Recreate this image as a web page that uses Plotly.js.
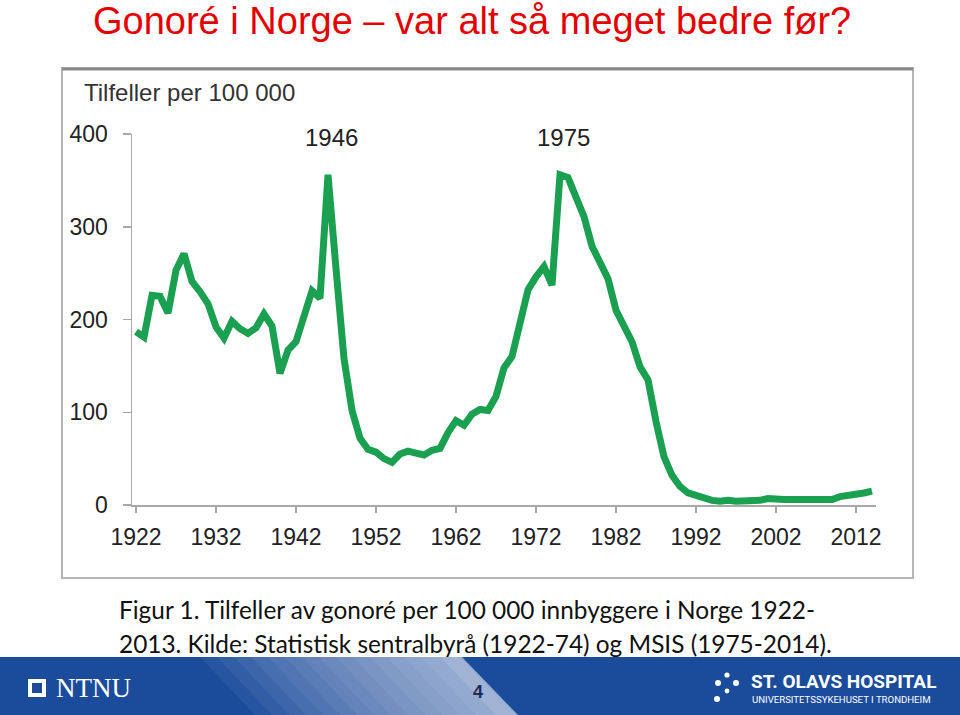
<!DOCTYPE html>
<html>
<head>
<meta charset="utf-8">
<script src="https://cdn.plot.ly/plotly-3.0.1.min.js"></script>
<style>
html,body{margin:0;padding:0;background:#fff;}
#chart{width:960px;height:715px;}
</style>
</head>
<body>
<div id="chart"></div>
<script>
// ---- Data ----
const years = [1922,1923,1924,1925,1926,1927,1928,1929,1930,1931,1932,1933,1934,1935,1936,1937,1938,1939,1940,1941,
  1942,1943,1944,1945,1946,1947,1948,1949,1950,1951,1952,1953,1954,1955,1956,1957,1958,1959,1960,1961,
  1962,1963,1964,1965,1966,1967,1968,1969,1970,1971,1972,1973,1974,1975,1976,1977,1978,1979,1980,1981,
  1982,1983,1984,1985,1986,1987,1988,1989,1990,1991,1992,1993,1994,1995,1996,1997,1998,1999,2000,2001,
  2002,2003,2004,2005,2006,2007,2008,2009,2010,2011,2012,2013,2014];
const casesPer100k = [187,181,226,225,207,253,271,241,230,217,192,180,198,190,185,191,206,193,142,167,
  176,203,231,223,356,255,158,102,72,60,57,50,46,55,58,56,54,59,61,78,
  91,86,98,103,102,117,148,160,200,232,246,257,237,356,353,330,311,279,261,244,
  210,192,176,149,135,90,52,32,20,13,10,7,5,4,5,4,4,4,5,7,
  6,6,6,6,6,6,7,6,9,10,11,13,15];
const xTickVals = [1922,1932,1942,1952,1962,1972,1982,1992,2002,2012];
const xTickText = ["1922","1932","1942","1952","1962","1972","1982","1992","2002","2012"];
const yTickVals = [0,100,200,300,400];
const yTickText = ["0","100","200","300","400"];
const peakLabels = ["1946","1975"];
const peakYears = [1946,1975];
const peakValues = [356,356];

const pageTitle = "Gonoré i Norge – var alt så meget bedre før?";
const yAxisLabel = "Tilfeller per 100 000";
const captionLine1 = "Figur 1. Tilfeller av gonoré per 100 000 innbyggere i Norge 1922-";
const captionLine2 = "2013. Kilde: Statistisk sentralbyrå (1922-74) og MSIS (1975-2014).";

// ---- Layout geometry (pixels) ----
const L = 132, T = 134, W = 744, H = 371;
const px = x => (x - L) / W;
const py = y => (T + H - y) / H;

const green = 'rgb(26,160,80)';

const trace = {
  x: years, y: casesPer100k, type: 'scatter', mode: 'lines',
  line: {color: green, width: 7, shape: 'linear'},
  hoverinfo: 'x+y', showlegend: false
};

const ann = [];
ann.push({xref:'paper', yref:'paper', x:px(472), y:py(21), xanchor:'center', yanchor:'middle',
  text: pageTitle, showarrow:false, font:{family:'Liberation Sans, Arial, sans-serif', size:38, color:'rgb(228,0,0)'}});
ann.push({xref:'paper', yref:'paper', x:px(82), y:py(93), xanchor:'left', yanchor:'middle',
  text: yAxisLabel, showarrow:false, font:{family:'Liberation Sans, Arial, sans-serif', size:24, color:'#333'}});
for (let i = 0; i < peakLabels.length; i++) {
  ann.push({xref:'x', yref:'y', x:peakYears[i], y:peakValues[i], xanchor:'center', yanchor:'bottom',
    yshift: 22, xshift: 3,
    text: peakLabels[i], showarrow:false, font:{family:'Liberation Sans, Arial, sans-serif', size:24, color:'#222'}});
}
ann.push({xref:'paper', yref:'paper', x:px(117), y:py(609), xanchor:'left', yanchor:'middle',
  text: captionLine1, showarrow:false, font:{family:'Lato, sans-serif', size:24.4, color:'#111'}});
ann.push({xref:'paper', yref:'paper', x:px(117), y:py(643), xanchor:'left', yanchor:'middle',
  text: captionLine2, showarrow:false, font:{family:'Lato, sans-serif', size:24.4, color:'#111'}});
// footer texts
ann.push({xref:'paper', yref:'paper', x:px(54), y:py(688), xanchor:'left', yanchor:'middle',
  text: 'NTNU', showarrow:false, font:{family:'Liberation Serif, serif', size:27, color:'#fff'}});
ann.push({xref:'paper', yref:'paper', x:px(478), y:py(692), xanchor:'center', yanchor:'middle',
  text: '<b>4</b>', showarrow:false, font:{family:'Liberation Sans, Arial, sans-serif', size:18, color:'#1c2b55'}});
ann.push({xref:'paper', yref:'paper', x:px(749), y:py(681), xanchor:'left', yanchor:'middle',
  text: '<b>ST. OLAVS HOSPITAL</b>', showarrow:false, font:{family:'Roboto, sans-serif', size:19, color:'#fff'}});
ann.push({xref:'paper', yref:'paper', x:px(750), y:py(699), xanchor:'left', yanchor:'middle',
  text: 'UNIVERSITETSSYKEHUSET I TRONDHEIM', showarrow:false, font:{family:'Roboto, sans-serif', size:9.6, color:'#fff'}});

const shapes = [];
// chart frame
shapes.push({type:'rect', xref:'paper', yref:'paper', x0:px(62), x1:px(913), y0:py(578), y1:py(68),
  line:{color:'#b5b5b5', width:2}, layer:'below'});
shapes.push({type:'line', xref:'paper', yref:'paper', x0:px(62), x1:px(913), y0:py(69), y1:py(69),
  line:{color:'#8a8a8a', width:3}, layer:'below'});
// footer bar
shapes.push({type:'rect', xref:'paper', yref:'paper', x0:px(0), x1:px(960), y0:py(715), y1:py(657),
  fillcolor:'rgb(27,76,156)', line:{width:0}, layer:'below'});
function poly(pts, fill) {
  let d = 'M ' + pts.map(p => px(p[0]) + ',' + py(p[1])).join(' L ') + ' Z';
  shapes.push({type:'path', xref:'paper', yref:'paper', path:d, fillcolor:fill, line:{width:0}, layer:'below'});
}
// smooth light band: many thin overlapping translucent layers
for (let k = 0; k < 14; k++) {
  const left = 200 + k * 17;
  poly([[left,657],[462,657],[518,715],[left+55,715]], 'rgba(255,255,255,0.055)');
}
poly([[440,657],[460,657],[516,715],[496,715]], 'rgba(255,255,255,0.12)');
// NTNU icon
shapes.push({type:'rect', xref:'paper', yref:'paper', x0:px(28), x1:px(46), y0:py(697), y1:py(679),
  fillcolor:'#fff', line:{width:0}});
shapes.push({type:'rect', xref:'paper', yref:'paper', x0:px(32), x1:px(42), y0:py(693), y1:py(683),
  fillcolor:'rgb(27,76,156)', line:{color:'#fff', width:0}});
// St. Olavs dots
const dots = [[727,675,2.6],[718,683,3],[736,683,3],[727,691,2.4],[717,699,3]];
dots.forEach(d => shapes.push({type:'circle', xref:'paper', yref:'paper',
  x0:px(d[0]-d[2]), x1:px(d[0]+d[2]), y0:py(d[1]+d[2]), y1:py(d[1]-d[2]), fillcolor:'#fff', line:{width:0}}));

const layout = {
  width: 960, height: 715,
  margin: {l: L, r: 960 - L - W, t: T, b: 715 - T - H, pad: 0},
  paper_bgcolor: '#fff', plot_bgcolor: 'rgba(0,0,0,0)',
  showlegend: false,
  xaxis: {range:[1921.5, 2014.5], tickmode:'array', tickvals:xTickVals, ticktext:xTickText,
    showgrid:false, zeroline:false, showline:true, linecolor:'#a8a8a8', linewidth:1.5,
    ticks:'outside', ticklen:6, tickcolor:'#a8a8a8', tickwidth:1.5, ticklabelstandoff: 5,
    tickfont:{family:'Liberation Sans, Arial, sans-serif', size:23, color:'#222'}, fixedrange:true},
  yaxis: {range:[0, 400], tickmode:'array', tickvals:yTickVals, ticktext:yTickText,
    showgrid:false, zeroline:false, showline:true, linecolor:'#a8a8a8', linewidth:1.5,
    ticks:'outside', ticklen:8, tickcolor:'#a8a8a8', tickwidth:1.5, ticklabelstandoff: 10,
    tickfont:{family:'Liberation Sans, Arial, sans-serif', size:23, color:'#222'}, fixedrange:true},
  annotations: ann,
  shapes: shapes
};

Plotly.newPlot('chart', [trace], layout, {displayModeBar:false, staticPlot:true});
</script>
</body>
</html>
